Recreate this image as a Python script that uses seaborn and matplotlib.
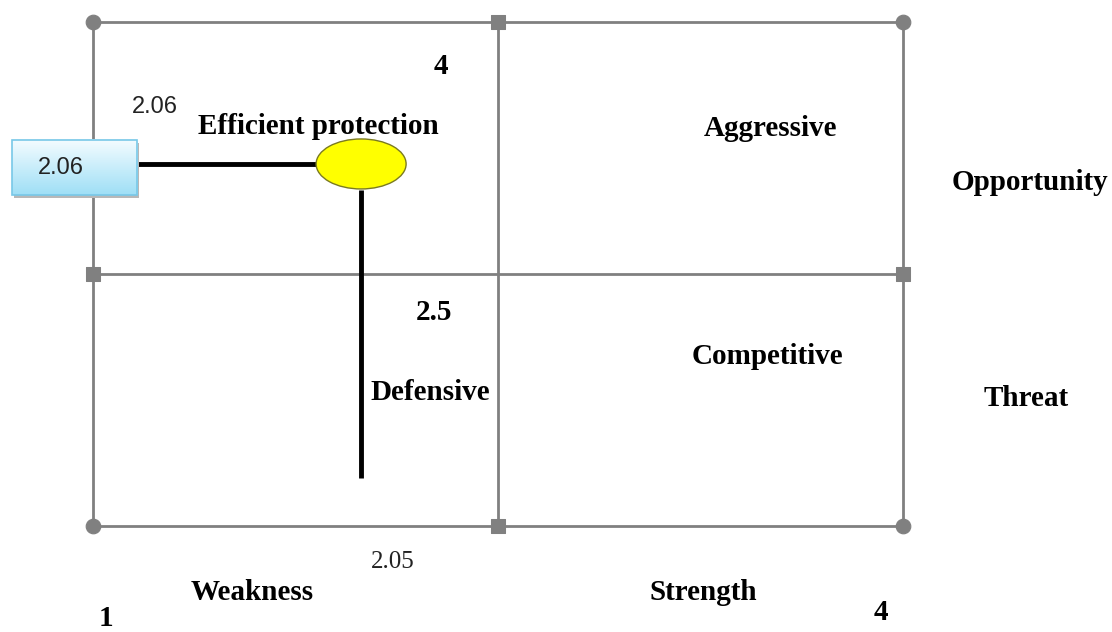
import numpy as np
import matplotlib
matplotlib.use("Agg")
import matplotlib.pyplot as plt
import seaborn as sns
import pandas as pd
from matplotlib.patches import Ellipse, Rectangle
from matplotlib.colors import LinearSegmentedColormap

# ---- data ----
x_range = [1, 4]          # Weakness .. Strength
y_range = [1, 4]          # Threat .. Opportunity
mid = 2.5
corner_x = [1, 4, 1, 4]
corner_y = [1, 1, 4, 4]
edge_mid_x = [2.5, 2.5, 1, 4]
edge_mid_y = [1, 4, 2.5, 2.5]
point_label_x = "2.05"
point_label_y = "2.06"
point_pos = (1.993, 3.155)       # drawn position
h_line_x = [1.163, 1.826]
v_line_y = [3.0, 1.286]
box_x = [0.70, 1.163]
box_y = [2.97, 3.298]

quadrant_labels = ["Efficient protection", "Aggressive", "Defensive", "Competitive"]
side_labels = ["Opportunity", "Threat"]
bottom_labels = ["Weakness", "Strength"]
scale_labels = ["1", "4", "4", "2.5"]

sns.set_theme(style="white")
plt.rcParams['font.family'] = ['Liberation Serif', 'DejaVu Serif']

W, H = 1112, 632
fig = plt.figure(figsize=(W/100, H/100), dpi=100)
ax = fig.add_axes([93/W, (H-526)/H, 810/W, 504/H])
ax.set_xlim(*x_range)
ax.set_ylim(*y_range)
ax.axis("off")

def px(x):
    return 1 + (x - 93) / 270.0
def py(y):
    return 1 + (526 - y) / 168.0

gray = "#808080"
lw = 2.0
ax.plot([1, 4, 4, 1, 1], [1, 1, 4, 4, 1], color=gray, lw=lw, clip_on=False, zorder=2)
ax.plot([mid, mid], y_range, color=gray, lw=lw, clip_on=False, zorder=2)
ax.plot(x_range, [mid, mid], color=gray, lw=lw, clip_on=False, zorder=2)

df_c = pd.DataFrame({"x": corner_x, "y": corner_y})
df_m = pd.DataFrame({"x": edge_mid_x, "y": edge_mid_y})
sns.scatterplot(data=df_c, x="x", y="y", ax=ax, marker="o", s=110, color=gray,
                edgecolor=gray, clip_on=False, zorder=3, legend=False)
sns.scatterplot(data=df_m, x="x", y="y", ax=ax, marker="s", s=90, color=gray,
                edgecolor=gray, clip_on=False, zorder=3, legend=False)

ax.plot(h_line_x, [point_pos[1], point_pos[1]], color="black", lw=3.5,
        solid_capstyle="butt", clip_on=False, zorder=4)
ax.plot([point_pos[0], point_pos[0]], v_line_y, color="black", lw=3.5,
        solid_capstyle="butt", clip_on=False, zorder=4)

ax.add_patch(Ellipse(point_pos, 90/270.0, 50/168.0, facecolor="#ffff00",
                     edgecolor="#7a7a20", lw=1.0, zorder=5, clip_on=False))

grad = np.linspace(0, 1, 64).reshape(-1, 1)
cmap = LinearSegmentedColormap.from_list("bx", ["#f4fcff", "#9fdff6"])
ax.add_patch(Rectangle((box_x[0] + 0.008, box_y[0] - 0.02), box_x[1] - box_x[0],
                       box_y[1] - box_y[0], facecolor="#b8b8b8", edgecolor="none",
                       clip_on=False, zorder=5))
ax.imshow(grad, extent=[box_x[0], box_x[1], box_y[0], box_y[1]], cmap=cmap,
          aspect="auto", origin="upper", zorder=6, clip_on=False)
ax.add_patch(Rectangle((box_x[0], box_y[0]), box_x[1] - box_x[0], box_y[1] - box_y[0],
                       facecolor="none", edgecolor="#78c8e8", lw=1.2,
                       clip_on=False, zorder=7))
ax.set_xlim(*x_range)
ax.set_ylim(*y_range)

sans = ['Liberation Sans', 'DejaVu Sans']
ax.text(px(61), py(168), point_label_y, fontsize=17, family=sans, ha="center",
        va="center", color="#222222", zorder=8, clip_on=False)
ax.text(px(155), py(107), point_label_y, fontsize=17, family=sans, ha="center",
        va="center", color="#222222", clip_on=False)
ax.text(px(393), py(562), point_label_x, fontsize=18, ha="center", va="center",
        color="#222222", clip_on=False)

bold = dict(fontsize=21, fontweight="bold", ha="center", va="center",
            color="black", clip_on=False)
ax.text(px(318), py(127), quadrant_labels[0], **bold)
ax.text(px(770), py(128), quadrant_labels[1], **bold)
ax.text(px(430), py(393), quadrant_labels[2], **bold)
ax.text(px(767), py(357), quadrant_labels[3], **bold)
ax.text(px(1030), py(183), side_labels[0], **bold)
ax.text(px(1026), py(399), side_labels[1], **bold)
ax.text(px(252), py(593), bottom_labels[0], **bold)
ax.text(px(703), py(593), bottom_labels[1], **bold)
ax.text(px(106), py(618), scale_labels[0], **bold)
ax.text(px(881), py(612), scale_labels[1], **bold)
ax.text(px(441), py(66), scale_labels[2], **bold)
ax.text(px(434), py(312), scale_labels[3], **bold)

fig.savefig("out.png", dpi=100)
